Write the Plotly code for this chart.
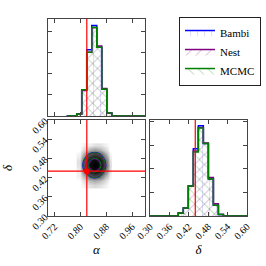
import numpy as np
import plotly.graph_objects as go

# ---------------- data ----------------
series_names = ["Bambi", "Nest", "MCMC"]
series_colors = ["#0000ff", "#800080", "#008000"]
series_hatch = ["|", "/", "\\"]

bin_width = 0.0155

alpha_lo = 0.7578
alpha_bambi = [0, 0, 0.5, 6.2, 15.6, 21.3, 16.2, 6.3, 0.7, 0, 0, 0, 0, 0, 0, 0]
alpha_nest  = [0, 0, 0.5, 6.0, 15.0, 20.8, 16.5, 6.5, 0.7, 0, 0, 0, 0, 0, 0, 0]
alpha_mcmc  = [0, 0, 0.5, 6.2, 15.0, 20.9, 16.2, 6.3, 0.7, 0, 0, 0, 0, 0, 0, 0]

delta_lo = 0.2945
delta_bambi = [0, 0, 0, 0, 0, 0, 0.64, 1.7, 6.35, 14.3, 19.2, 15.4, 7.85, 2.3, 0.3, 0, 0, 0, 0, 0]
delta_nest  = [0, 0, 0, 0, 0, 0, 0.64, 1.7, 6.35, 13.8, 18.8, 15.5, 8.2, 2.6, 0.3, 0, 0, 0, 0, 0]
delta_mcmc  = [0, 0, 0, 0, 0, 0, 0.64, 1.7, 6.35, 13.6, 18.7, 15.4, 7.85, 2.3, 0.3, 0, 0, 0, 0, 0]

# 2D histogram (rows: delta bins, cols: alpha bins)
grid_alpha_lo = 0.7888
grid_delta_lo = 0.3875
grid_z = [
    [0, 1, 2, 3, 2, 1, 0],
    [0, 3, 7, 9, 7, 3, 0],
    [1, 10, 25, 34, 27, 10, 1],
    [1, 22, 54, 74, 58, 22, 2],
    [2, 30, 73, 100, 78, 30, 3],
    [2, 25, 60, 82, 64, 25, 2],
    [1, 13, 31, 42, 33, 13, 1],
    [0, 4, 9, 12, 9, 4, 0],
    [0, 1, 1, 2, 2, 1, 0],
]
contour_levels = {"Bambi": (22, 64), "Nest": (26, 68), "MCMC": (24, 62)}

truth_alpha = 0.82
truth_delta = 0.44

alpha_ticks = [0.72, 0.80, 0.88, 0.96]
delta_ticks = [0.30, 0.36, 0.42, 0.48, 0.54, 0.60]

# ---------------- figure ----------------
FONT = "Liberation Serif"
fig = go.Figure()


def step_xy(lo, heights):
    n = len(heights)
    edges = [lo + i * bin_width for i in range(n + 1)]
    xs = [edges[0]] + edges[:-1] + [edges[-1]]
    ys = [0] + list(heights) + [0]
    return xs, ys


alpha_sets = [alpha_bambi, alpha_nest, alpha_mcmc]
delta_sets = [delta_bambi, delta_nest, delta_mcmc]
hatch_op = [0.15, 0.4, 0.4]

for name, col, hatch, ha, op in zip(series_names, series_colors, series_hatch, alpha_sets, hatch_op):
    xs, ys = step_xy(alpha_lo, ha)
    fig.add_trace(go.Scatter(
        x=xs, y=ys, mode="lines", name=name, legendgroup=name,
        line=dict(color=col, width=1.5, shape="hv"),
        fill="tozeroy", fillcolor="rgba(0,0,0,0)",
        fillpattern=dict(shape=hatch, fgcolor=col, fgopacity=op, size=7,
                         solidity=0.12, bgcolor="rgba(0,0,0,0)"),
        xaxis="x", yaxis="y", hoverinfo="skip"))

for name, col, hatch, hd, op in zip(series_names, series_colors, series_hatch, delta_sets, hatch_op):
    xs, ys = step_xy(delta_lo, hd)
    fig.add_trace(go.Scatter(
        x=xs, y=ys, mode="lines", name=name, legendgroup=name, showlegend=False,
        line=dict(color=col, width=1.5, shape="hv"),
        fill="tozeroy", fillcolor="rgba(0,0,0,0)",
        fillpattern=dict(shape=hatch, fgcolor=col, fgopacity=op, size=7,
                         solidity=0.12, bgcolor="rgba(0,0,0,0)"),
        xaxis="x3", yaxis="y3", hoverinfo="skip"))

ncol = len(grid_z[0])
nrow = len(grid_z)
gx_c = [grid_alpha_lo + (i + 0.5) * bin_width for i in range(ncol)]
gy_c = [grid_delta_lo + (i + 0.5) * bin_width for i in range(nrow)]

fig.add_trace(go.Heatmap(
    z=grid_z, x=gx_c, y=gy_c, zmin=0, zmax=100, showscale=False, zsmooth="best",
    colorscale=[[0, "white"], [0.02, "#e2e2e2"], [0.1, "#a0a0a0"],
                [0.3, "#444444"], [0.6, "#141414"], [1, "black"]],
    xaxis="x2", yaxis="y2", hoverinfo="skip"))

for name, col in zip(series_names, series_colors):
    lo, hi = contour_levels[name]
    fig.add_trace(go.Contour(
        z=grid_z, x=gx_c, y=gy_c, showscale=False, showlegend=False,
        contours=dict(coloring="lines", start=lo, end=hi, size=hi - lo),
        colorscale=[[0, col], [1, col]],
        line=dict(width=1, smoothing=1.3),
        xaxis="x2", yaxis="y2", hoverinfo="skip"))

fig.add_trace(go.Scatter(
    x=[truth_alpha], y=[truth_delta], mode="markers", showlegend=False,
    marker=dict(color="#ff0000", size=6), xaxis="x2", yaxis="y2", hoverinfo="skip"))

red = dict(color="#ff0000", width=1.2)
fig.add_shape(type="line", xref="x", yref="y domain", x0=truth_alpha, x1=truth_alpha, y0=0, y1=1, line=red)
fig.add_shape(type="line", xref="x2", yref="y2 domain", x0=truth_alpha, x1=truth_alpha, y0=0, y1=1, line=red)
fig.add_shape(type="line", xref="x2 domain", yref="y2", x0=0, x1=1, y0=truth_delta, y1=truth_delta, line=red)
fig.add_shape(type="line", xref="x3", yref="y3 domain", x0=truth_delta, x1=truth_delta, y0=0, y1=1, line=red)

frame = dict(showline=True, linecolor="#444", linewidth=1, mirror="ticks",
             ticks="inside", ticklen=4, tickcolor="#444", showgrid=False, zeroline=False,
             automargin=False,
             tickfont=dict(family=FONT, size=10, color="black"))

col1 = [0, 0.4874]
col2 = [0.5126, 1]
row_top = [0.5076, 1]
row_bot = [0, 0.4873]

fig.update_layout(
    width=266, height=266,
    margin=dict(l=48, r=19, t=19, b=50, autoexpand=False),
    paper_bgcolor="white", plot_bgcolor="white",
    font=dict(family=FONT, color="black"),
    xaxis=dict(domain=col1, range=[0.70, 1.00], tickvals=alpha_ticks, showticklabels=False,
               anchor="y", **frame),
    yaxis=dict(domain=row_top, range=[0, 22.86], dtick=5, showticklabels=False,
               anchor="x", **frame),
    xaxis2=dict(domain=col1, range=[0.70, 1.00], tickvals=alpha_ticks,
                ticktext=[f"{v:.2f}" for v in alpha_ticks], tickangle=-45, anchor="y2",
                title=dict(text="<i>α</i>", font=dict(family=FONT, size=13), standoff=4), **frame),
    yaxis2=dict(domain=row_bot, range=[0.30, 0.60], tickvals=delta_ticks,
                ticktext=[f"{v:.2f}" for v in delta_ticks], tickangle=-45, anchor="x2",
                title=dict(text="<i>δ</i>", font=dict(family=FONT, size=13), standoff=15), **frame),
    xaxis3=dict(domain=col2, range=[0.30, 0.60], tickvals=delta_ticks,
                ticktext=[f"{v:.2f}" for v in delta_ticks], tickangle=-45, anchor="y3",
                title=dict(text="<i>δ</i>", font=dict(family=FONT, size=13), standoff=4), **frame),
    yaxis3=dict(domain=row_bot, range=[0, 20.4], dtick=5, showticklabels=False,
                anchor="x3", **frame),
    legend=dict(xref="container", yref="container", x=0.673, y=0.936,
                xanchor="left", yanchor="top",
                bgcolor="white", bordercolor="#222", borderwidth=1,
                font=dict(family=FONT, size=11), itemwidth=30, tracegroupgap=0),
)

fig.write_html("out.html", config={"displayModeBar": False},
               post_script="document.body.style.margin='0';")
